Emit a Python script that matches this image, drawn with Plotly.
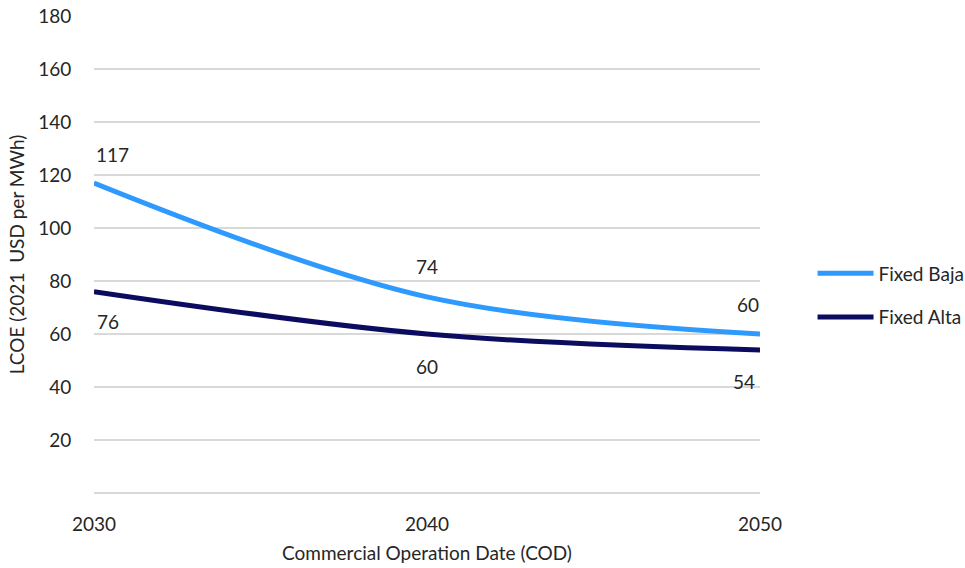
import plotly.graph_objects as go

years = [2030, 2040, 2050]
baja = [117, 74, 60]
alta = [76, 60, 54]
y_ticks = [20, 40, 60, 80, 100, 120, 140, 160, 180]
x_ticks = [2030, 2040, 2050]

c_baja = "#2E9AFE"
c_alta = "#0B0B60"
font_family = "Lato, Liberation Sans, sans-serif"
txt = "#262626"
fs = 19

fig = go.Figure()
fig.add_trace(go.Scatter(x=years, y=baja, name="Fixed Baja", mode="lines",
                         line=dict(color=c_baja, width=5, shape="spline", smoothing=1),
                         legendgroup="a"))
fig.add_trace(go.Scatter(x=years, y=alta, name="Fixed Alta", mode="lines",
                         line=dict(color=c_alta, width=5, shape="spline", smoothing=1),
                         legendgroup="b"))

# data labels
baja_shift = [(18, 28), (0, 30), (-12, 30)]
alta_shift = [(14, -30), (0, -32), (-16, -32)]
for x, v, (dx, dy) in zip(years, baja, baja_shift):
    fig.add_annotation(x=x, y=v, text=str(v), showarrow=False, xshift=dx, yshift=dy,
                       font=dict(size=fs, color=txt, family=font_family))
for x, v, (dx, dy) in zip(years, alta, alta_shift):
    fig.add_annotation(x=x, y=v, text=str(v), showarrow=False, xshift=dx, yshift=dy,
                       font=dict(size=fs, color=txt, family=font_family))

fig.update_layout(
    width=965, height=568,
    margin=dict(l=94, r=205, t=16, b=75),
    paper_bgcolor="white", plot_bgcolor="white",
    font=dict(family=font_family, size=fs, color=txt),
    showlegend=True,
    legend=dict(xref="container", yref="container", x=0.842, y=0.480,
                xanchor="left", yanchor="middle",
                tracegroupgap=16, font=dict(size=fs, color=txt), itemwidth=56),
    xaxis=dict(range=[2030, 2050], tickvals=x_ticks, ticktext=[str(t) for t in x_ticks],
               showgrid=False, zeroline=False, showline=False, automargin=False,
               ticks="outside", ticklen=14, tickcolor="rgba(0,0,0,0)",
               title=dict(text="Commercial Operation Date (COD)", standoff=12,
                          font=dict(size=fs, color=txt))),
    yaxis=dict(range=[0, 180], tickvals=y_ticks, showgrid=True, gridcolor="#D9D9D9",
               gridwidth=1.5, zeroline=True, zerolinecolor="#D9D9D9", zerolinewidth=1.5,
               showline=False, automargin=False, ticks="outside", ticklen=18,
               tickcolor="rgba(0,0,0,0)",
               title=dict(text="LCOE (2021  USD per MWh)", standoff=8,
                          font=dict(size=fs, color=txt))),
)

fig.write_html("out.html", config={"displayModeBar": False},
               post_script="document.body.style.margin='0';document.body.style.overflow='hidden';")
